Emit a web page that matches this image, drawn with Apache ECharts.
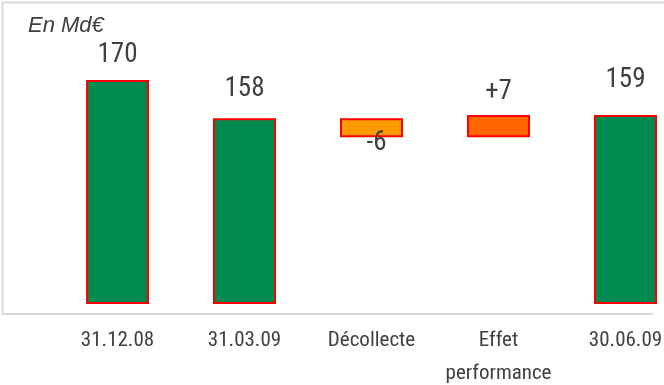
<!DOCTYPE html>
<html>
<head>
<meta charset="utf-8">
<script src="https://cdn.jsdelivr.net/npm/echarts@6/dist/echarts.min.js"></script>
<style>
  html, body { margin: 0; padding: 0; background: #fff; }
  #chart { width: 664px; height: 385px; }
</style>
</head>
<body>
<div id="chart"></div>
<script>
// waterfall: encours en Md€
var categories = ['31.12.08', '31.03.09', 'Décollecte', 'Effet\nperformance', '30.06.09'];
var values = [170, 158, -6, 7, 159];
var isTotal = [true, true, false, false, true];

var barColors = ['#008a50', '#008a50', '#ff9900', '#ff6600', '#008a50'];
var labelGap = [11, 15, 0, 9, 21];

// invisible base + visible part, stacked
var base = [];
var shown = [];
var running = 0;
values.forEach(function (v, i) {
  if (isTotal[i]) {
    base.push(0);
    shown.push(v);
    running = v;
  } else {
    var next = running + v;
    base.push(Math.min(running, next));
    shown.push(Math.abs(v));
    running = next;
  }
});

var labelFont = "'Roboto Condensed', 'Liberation Sans Narrow', 'Roboto', sans-serif";

var shownData = shown.map(function (v, i) {
  var item = {
    value: v,
    itemStyle: { color: barColors[i] },
    label: { distance: labelGap[i] }
  };
  if (!isTotal[i] && values[i] < 0) {
    item.label = { position: 'bottom', distance: -8, offset: [5, 0] };
  }
  return item;
});

var chart = echarts.init(document.getElementById('chart'));
chart.setOption({
  animation: false,
  title: {
    text: 'En Md€',
    left: 28,
    top: 15,
    padding: 0,
    textStyle: {
      fontFamily: "'Liberation Sans', Arial, sans-serif",
      fontStyle: 'italic',
      fontWeight: 'normal',
      fontSize: 22,
      color: '#404040'
    }
  },
  graphic: [{
    type: 'polyline',
    shape: { points: [[664, 2.5], [2.5, 2.5], [2.5, 314], [653, 314]] },
    style: { stroke: '#d9d9d9', lineWidth: 2, fill: null },
    silent: true
  }],
  grid: { left: 54, width: 635, top: 48, bottom: 82, outerBoundsMode: 'none' },
  xAxis: {
    type: 'category',
    data: categories,
    axisLine: { show: false },
    axisTick: { show: false },
    axisLabel: {
      interval: 0,
      margin: 21,
      fontFamily: labelFont,
      fontSize: 21,
      lineHeight: 33,
      color: '#404040'
    }
  },
  yAxis: {
    type: 'value',
    min: 100,
    max: 180,
    show: false,
    splitLine: { show: false }
  },
  series: [{
    type: 'bar',
    stack: 'w',
    data: base,
    barWidth: 63,
    itemStyle: { color: 'transparent' },
    silent: true
  }, {
    type: 'bar',
    stack: 'w',
    data: shownData,
    barWidth: 63,
    itemStyle: { borderColor: '#ff0000', borderWidth: 2 },
    label: {
      show: true,
      position: 'top',
      fontFamily: labelFont,
      fontSize: 27,
      color: '#404040',
      formatter: function (p) {
        var v = values[p.dataIndex];
        if (isTotal[p.dataIndex]) return String(v);
        return v > 0 ? '+' + v : String(v);
      }
    }
  }]
});
</script>
</body>
</html>
